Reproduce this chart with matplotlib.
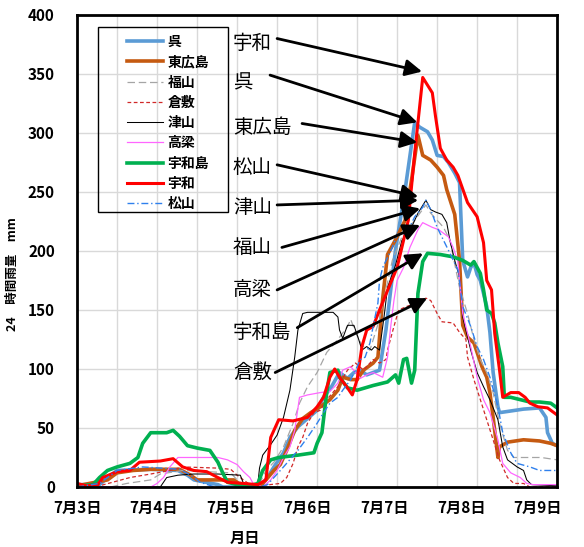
import numpy as np
import matplotlib.pyplot as plt
from matplotlib.patches import Rectangle

plt.rcParams['font.family'] = ['Noto Sans CJK JP', 'DejaVu Sans']

# hours from 7/3 0:00 and 24h rainfall (mm)
kure_h = [0, 7, 10.5, 12.5, 23, 31.5, 34.5, 36.5, 44, 45.5, 57, 59.5, 61.5, 64.5, 66.5, 69, 72, 75, 77, 79.5,
          82, 84.5, 86.5, 88.5, 90.5, 94.5, 96.5, 99.5, 102.5, 105.5, 107, 109.5, 111, 112.5, 114.5, 116, 118, 119.5,
          120.5, 122, 123, 124, 125, 126, 128, 129, 130, 131.5, 132, 139.5, 144.5, 146.5, 147, 148.5, 150]
kure_v = [2, 2, 10, 14, 15, 14, 10, 6, 2, 0, 0, 8, 17, 29, 42, 51, 58, 65, 76, 85,
          97, 92, 97, 99, 95, 99, 133, 201, 252, 309, 305, 301, 294, 281, 280, 275, 266, 258,
          192, 178, 186, 190, 180, 175, 153, 131, 97, 68, 63, 66, 67, 59, 46, 37, 35]

hh_h = [0, 9.5, 12.5, 17.5, 23, 32, 35.5, 37.5, 49, 51, 57, 59, 61.5, 63.5, 65.5, 68, 70.5, 73, 76, 79,
        81.5, 83, 85.5, 87.5, 89.5, 91, 92.5, 94, 95.5, 97, 100, 102.5, 104.5, 106.5, 108, 110.5, 112.5, 114.5,
        115.5, 118, 119.5, 120.5, 122, 124, 125.5, 126.5, 128, 129, 130, 131.5, 132, 134.5, 139.5, 144.5, 148, 150]
hh_v = [1, 6, 12, 14, 15, 15, 10, 6, 6, 2, 0, 6, 14, 19, 31, 48, 58, 63, 68, 74,
        82, 93, 91, 91, 99, 102, 105, 110, 160, 197, 212, 226, 260, 298, 281, 277, 271, 264,
        252, 231, 192, 137, 127, 122, 110, 102, 93, 80, 59, 25, 34, 38, 40, 39, 37, 35]

fukuyama_h = [0, 10.5, 15.5, 23, 26, 33, 48, 50, 52, 56.5, 59, 61.5, 64.5, 67.5, 69.5, 72, 75, 78, 81.5, 84.5,
              85.5, 87, 89, 91.5, 94.5, 98.5, 101.5, 105.5, 109, 110.5, 112.5, 114.5, 116.5, 119.5, 122, 124,
              126, 128, 130, 132, 134.5, 136.5, 145, 150]
fukuyama_v = [0, 0, 3, 6, 11, 14, 12, 6, 2, 0, 14, 21, 34, 54, 71, 85, 97, 114, 125, 136,
              142, 131, 120, 116, 142, 192, 212, 226, 239, 232, 226, 220, 209, 169, 147, 125,
              108, 97, 80, 54, 31, 25, 25, 23]

kurashiki_h = [0, 7, 16.5, 23, 29, 33, 44, 48, 50, 52, 54, 57, 63.5, 65.5, 67.5, 69, 70.5, 72, 74, 76,
               78, 81.5, 84.5, 87, 89.5, 92.5, 94.5, 96.5, 97, 99, 100.5, 103, 106.5, 109, 110.5, 112.5,
               114, 117.5, 119.5, 121.5, 122, 124, 126, 128, 130, 132, 134.5, 136.5, 139.5, 141.5, 150]
kurashiki_v = [0, 1, 8, 11, 14, 17, 16, 15, 10, 6, 2, 1, 3, 8, 20, 34, 42, 54, 63, 65,
               74, 85, 99, 105, 99, 108, 105, 108, 116, 136, 150, 153, 156, 160, 158, 147,
               140, 139, 131, 125, 110, 91, 74, 57, 40, 23, 8, 3, 3, 0, 0]

tsuyama_h = [0, 26, 28, 31.5, 36.5, 44, 51, 52, 54, 56.5, 57, 58, 60.5, 62.5, 64.5, 66.5, 68, 69, 70.5, 72,
             80, 81.5, 82, 83, 84.5, 86.5, 88, 89, 90.5, 92, 93, 94.5, 96, 97, 99.5, 101.5, 104.5, 106.5,
             109, 110.5, 112, 114, 115.5, 116.5, 118, 119.5, 120.5, 123, 125, 127, 129, 131.5, 133, 134.5,
             137.5, 139.5, 140.5, 142, 150]
tsuyama_v = [0, 0, 8, 10, 11, 11, 10, 3, 1, 3, 16, 27, 36, 44, 59, 82, 110, 133, 147, 148,
             148, 144, 133, 126, 137, 137, 125, 116, 119, 116, 119, 116, 146, 169, 188, 209, 220, 232,
             243, 235, 233, 231, 224, 209, 192, 178, 144, 116, 97, 85, 74, 57, 34, 23,
             17, 14, 6, 2, 1]

takahashi_h = [0, 23, 25, 27, 29, 31.5, 35.5, 44, 47, 50, 52, 54, 55, 58, 60.5, 62.5, 64.5, 66.5, 68, 69.5,
               72, 76, 79, 81.5, 83, 85.5, 87, 88.5, 90.5, 92.5, 95.5, 97, 98, 99, 100, 102, 104, 106.5,
               108, 109.5, 111, 113, 114.5, 116, 117.5, 119, 120.5, 123, 125, 127, 129, 131.5, 133, 135.5,
               138.5, 140.5, 142.5, 150]
takahashi_v = [0, 0, 3, 8, 17, 25, 25, 25, 23, 19, 13, 8, 3, 0, 6, 14, 25, 34, 48, 76,
               78, 80, 81, 88, 99, 102, 97, 92, 95, 97, 93, 110, 136, 158, 175, 186, 203, 218,
               224, 222, 220, 218, 215, 212, 203, 191, 147, 119, 93, 74, 63, 40, 20, 12,
               8, 3, 2, 2]

uwajima_h = [0, 5, 7, 9.5, 12.5, 16.5, 19, 20.5, 23, 28, 30, 32, 34.5, 37.5, 41.5, 44, 45.5, 47, 50, 54,
             56.5, 58, 60.5, 63, 69, 74, 75, 76.5, 78, 79, 81.5, 82, 84.5, 87.5, 92.5, 97, 99.5, 100.5, 102, 103,
             104.5, 105.5, 106.5, 108, 109.5, 113.5, 117.5, 120.5, 123, 124, 126, 127, 128, 129.5, 130.5, 131.5,
             133, 133.5, 135.5, 138.5, 141.5, 144.5, 148, 150]
uwajima_v = [1, 2, 8, 14, 17, 20, 25, 37, 46, 46, 48, 43, 35, 33, 31, 21, 12, 4, 2, 1,
             3, 14, 23, 25, 27, 29, 37, 46, 80, 97, 99, 93, 84, 82, 86, 89, 95, 88, 108, 109,
             88, 99, 164, 191, 198, 197, 195, 192, 188, 191, 181, 167, 150, 147, 139, 122,
             102, 76, 76, 74, 72, 72, 71, 67]

uwa_h = [0, 3, 6.5, 8, 12.5, 16.5, 19.5, 26, 30, 33, 36.5, 40.5, 44, 47, 52, 56.5, 59, 60.5, 63, 67.5,
         72, 75, 77, 79, 80.5, 82, 84.5, 86, 87.5, 89, 90.5, 92.5, 94.5, 98, 100, 103.5, 105.5, 108, 111, 112,
         113.5, 115.5, 117.5, 119, 122, 123.5, 125, 127, 128, 129.5, 130.5, 132, 133, 135.5, 138, 140, 141.5,
         144, 147, 150]
uwa_v = [3, 1, 2, 8, 13, 14, 21, 22, 24, 17, 14, 13, 8, 4, 3, 2, 6, 42, 57, 56,
         59, 68, 76, 93, 100, 93, 84, 78, 91, 119, 133, 136, 150, 173, 186, 226, 283, 347, 334, 314,
         287, 277, 271, 264, 241, 235, 229, 207, 175, 167, 130, 99, 76, 80, 80, 76, 71,
         68, 67, 61]

matsuyama_h = [0, 7, 12.5, 20.5, 32, 35.5, 38.5, 43, 57, 59.5, 64.5, 69, 72, 75, 77, 79, 81.5, 83, 85.5, 87,
               88.5, 90, 91.5, 92.5, 94, 94.5, 95.5, 98.5, 100, 103, 105.5, 108, 109, 110.5, 112.5, 114.5,
               116.5, 119, 120.5, 123, 125, 127, 129, 131.5, 133, 135.5, 137.5, 141.5, 144.5, 150]
matsuyama_v = [0, 3, 14, 17, 15, 10, 4, 0, 0, 2, 17, 31, 42, 54, 63, 71, 76, 82, 91, 99,
               108, 110, 122, 136, 156, 175, 186, 203, 214, 215, 229, 237, 243, 235, 220, 209,
               198, 184, 153, 136, 119, 108, 93, 68, 46, 29, 20, 17, 14, 14]

day_labels = ['7月3日', '7月4日', '7月5日', '7月6日', '7月7日', '7月8日', '7月9日']

# label text position, arrow start, arrow end (hours, mm)
notes = [
    ('宇和', (48.7, 376), (62.5, 380), (107.8, 352)),
    ('呉', (48.7, 342), (60.3, 349), (106.3, 309)),
    ('東広島', (48.7, 305), (70.3, 308), (106.3, 292)),
    ('松山', (48.7, 271), (62.5, 273), (106.6, 246)),
    ('津山', (48.7, 237), (62.5, 239), (106.6, 243)),
    ('福山', (48.7, 203), (64, 203), (107.2, 236)),
    ('高梁', (48.7, 167), (62.5, 167), (107.2, 222)),
    ('宇和島', (48.7, 131), (68.8, 135), (108.1, 198)),
    ('倉敷', (48.7, 97), (61.9, 97), (109.4, 160)),
]

fig = plt.figure(figsize=(5.84, 5.47), dpi=100)
ax = fig.add_axes([0.132, 0.1097, 0.822, 0.863])

ax.plot(kure_h, kure_v, color='#5B9BD5', lw=2.6, label='呉')
ax.plot(hh_h, hh_v, color='#C55A11', lw=2.6, label='東広島')
ax.plot(fukuyama_h, fukuyama_v, color='#A5A5A5', lw=0.9, ls=(0, (6, 3)), label='福山')
ax.plot(kurashiki_h, kurashiki_v, color='#D02828', lw=0.9, ls=(0, (3, 2)), label='倉敷')
ax.plot(tsuyama_h, tsuyama_v, color='black', lw=0.75, label='津山')
ax.plot(takahashi_h, takahashi_v, color='#FF66FF', lw=0.9, label='高梁')
ax.plot(uwajima_h, uwajima_v, color='#00B050', lw=2.6, label='宇和島')
ax.plot(uwa_h, uwa_v, color='#FF0000', lw=2.2, label='宇和')
ax.plot(matsuyama_h, matsuyama_v, color='#2F80ED', lw=1.0, ls=(0, (5, 2, 1, 2)), label='松山')

for name, tpos, start, end in notes:
    ax.text(tpos[0], tpos[1], name, fontsize=14, ha='left', va='center')
    ax.annotate('', xy=end, xytext=start,
                arrowprops=dict(arrowstyle='-|>', color='black', lw=2, mutation_scale=25,
                                shrinkA=0, shrinkB=0))

ax.set_xlim(0, 150)
ax.set_ylim(0, 400)
ax.set_xticks(np.arange(0, 145, 24))
ax.set_xticklabels(day_labels, fontsize=11, fontweight='bold')
ax.set_xticks(np.linspace(0, 150, 13), minor=True)
ax.set_yticks(np.arange(0, 401, 50))
ax.set_yticklabels([str(v) for v in range(0, 401, 50)], fontsize=11, fontweight='bold')
ax.tick_params(which='both', length=0)
ax.tick_params(axis='x', pad=9)
ax.tick_params(axis='y', pad=16)
ax.grid(which='minor', axis='x', color='#D9D9D9', lw=1)
ax.grid(which='major', axis='y', color='#D9D9D9', lw=1)
ax.set_axisbelow(True)
for s in ax.spines.values():
    s.set_linewidth(2)

ax.set_ylabel('24　時間雨量　mm', fontsize=9, fontweight='bold')
ax.yaxis.set_label_coords(-0.12, 0.45)
ax.set_xlabel('月日', fontsize=11, fontweight='bold')
ax.xaxis.set_label_coords(0.35, -0.09)

leg = ax.legend(loc='upper left', bbox_to_anchor=(0.0896, 0.972), frameon=False, fontsize=10,
                handlelength=2.6, handletextpad=0.3, borderpad=0, labelspacing=0.45,
                prop={'weight': 'bold', 'size': 10})
ax.add_patch(Rectangle((21 / 480, 1 - 197 / 472), 130 / 480, 185 / 472, transform=ax.transAxes,
                       facecolor='none', edgecolor='black', lw=1, zorder=5))

fig.savefig('out.png', dpi=100)
